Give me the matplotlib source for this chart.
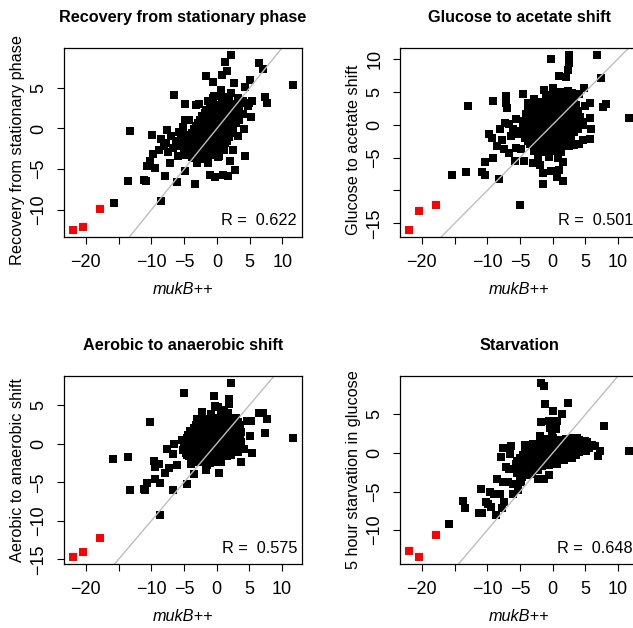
import matplotlib
matplotlib.use('Agg')
import matplotlib.pyplot as plt
import numpy as np

plt.rcParams['font.family'] = ['Liberation Sans', 'DejaVu Sans']
plt.rcParams['axes.unicode_minus'] = True

# panel texts
titles = ['Recovery from stationary phase', 'Glucose to acetate shift',
          'Aerobic to anaerobic shift', 'Starvation']
ylabels = ['Recovery from stationary phase', 'Glucose to acetate shift',
           'Aerobic to anaerobic shift', '5 hour starvation in glucose']
r_values = ['0.622', '0.501', '0.575', '0.648']

xticks = [-20, -15, -10, -5, 0, 5, 10]
xticks_hidden = [-15]
yticks = [[-10, -5, 0, 5], [-15, -10, -5, 0, 5, 10],
          [-15, -10, -5, 0, 5], [-10, -5, 0, 5]]
yticks_hidden = [[], [-10], [], []]

# red genes (same mukB++ values in every panel)
red_x = [-22.0, -20.5, -17.8]
red_y_recovery = [-12.5, -12.1, -9.9]
red_y_glucose = [-16.0, -13.1, -12.2]
red_y_aerobic = [-14.7, -14.1, -12.2]
red_y_starve = [-12.7, -13.5, -10.6]

# black points (mukB++, condition)
pts_recovery = [
    (2.15, 9.05), (1.23, 8.2), (6.36, 8.1), (6.97, 7.3), (11.64, 5.35), (-1.74, 6.46),
    (0.77, 6.58), (1.49, 7.08), (-0.6, 5.7), (2.56, 5.64), (5.08, 5.93), (4.26, 5.1),
    (-6.56, 4.1), (7.28, 3.9), (7.7, 3.09), (-4.8, 2.96), (-3.18, 2.88), (-2.7, 2.96),
    (-4.87, 1.1), (-4.3, 1.1), (5.23, 1.4), (5.3, 3.4), (4.9, 3.1), (4.2, -0.1),
    (4.26, -3.37), (-13.3, -0.29), (-9.85, -0.74), (-7.6, -0.16), (-5.85, -0.45),
    (-8.56, -1.28), (-7.74, -1.81), (-6.2, -1.5), (-10.67, -4.65), (-9.38, -4.81),
    (-10.15, -4.0), (-9.8, -3.2), (-8.9, -2.67), (-7.23, -4.2), (-7.95, -5.84),
    (-6.15, -6.6), (-4.8, -5.2), (-3.38, -6.8), (-13.5, -6.5), (-11.2, -6.3),
    (-10.8, -6.5), (-15.7, -9.2), (-8.6, -8.93), (-1.13, -5.68), (-0.36, -6.0),
    (0.92, -5.68), (1.74, -5.8), (2.8, -5.14), (2.05, -4.0), (-8.1, -2.18),
    (-7.5, -2.88), (-6.77, -2.39), (-6.15, -2.1), (-5.44, -1.36), (-4.77, -2.92),
    (-4.1, -2.26), (-6.97, -0.95), (-5.23, 0.2), (-4.5, -0.74), (-2.97, -4.24),
    (-1.44, -4.24), (0.36, -3.4), (1.13, -2.6), (2.4, -2.6), (-1.95, -3.8),
    (-3.5, -3.6), (-6.0, -3.4), (-1.44, 3.37), (-0.4, 4.0), (0.6, 4.8), (2.15, 4.4),
    (3.18, 3.8), (3.95, 3.37), (4.7, 2.76), (3.2, 2.35), (3.95, 1.73), (2.9, 0.7),
    (3.4, 1.1), (2.15, -0.53), (3.18, -0.95), (1.1, -1.36),
    # dense middle
    (-1.0, 3.1), (0.0, 2.9), (1.0, 3.2), (2.0, 3.0), (2.9, 2.8), (3.7, 3.1),
    (-1.6, 2.3), (-0.6, 2.1), (0.4, 2.4), (1.4, 2.2), (2.4, 2.0), (3.3, 2.3),
    (-2.3, 1.5), (-1.3, 1.3), (-0.3, 1.6), (0.7, 1.4), (1.7, 1.3), (2.7, 1.6),
    (-2.9, 0.7), (-1.9, 0.5), (-0.9, 0.8), (0.1, 0.6), (1.1, 0.5), (2.1, 0.8),
    (-3.5, -0.1), (-2.5, -0.3), (-1.5, 0.0), (-0.5, -0.2), (0.5, -0.1), (1.5, -0.3), (2.4, 0.0),
    (-4.1, -0.9), (-3.1, -1.1), (-2.1, -0.8), (-1.1, -1.0), (-0.1, -1.2), (0.9, -0.9), (1.8, -1.1),
    (-4.5, -1.7), (-3.5, -1.9), (-2.6, -1.6), (-1.6, -1.9), (-0.6, -1.7), (0.4, -2.0), (1.3, -1.8),
    (-5.0, -2.5), (-4.0, -2.7), (-3.0, -2.5), (-2.0, -2.8), (-1.0, -2.5), (0.0, -2.7), (0.8, -2.4),
    (-4.7, -3.3), (-3.8, -3.5), (-2.8, -3.3), (-1.8, -3.6), (-0.8, -3.3), (0.2, -3.5),
    (-0.6, 3.8), (0.8, 3.7), (1.9, 3.9),
    (-1.1, 2.7), (-0.1, 2.6), (0.9, 2.8), (1.9, 2.6), (2.9, 2.5),
    (-1.8, 1.9), (-0.8, 1.8), (0.2, 2.0), (1.2, 1.8), (2.2, 1.7), (3.1, 1.9),
    (-2.6, 1.1), (-1.6, 0.9), (-0.6, 1.2), (0.4, 1.0), (1.4, 0.9), (2.4, 1.2),
    (-3.2, 0.3), (-2.2, 0.1), (-1.2, 0.4), (-0.2, 0.2), (0.8, 0.1), (1.8, 0.3),
    (-3.8, -0.5), (-2.8, -0.7), (-1.8, -0.4), (-0.8, -0.6), (0.2, -0.5), (1.2, -0.7), (2.1, -0.5),
    (-4.3, -1.3), (-3.3, -1.5), (-2.3, -1.2), (-1.3, -1.4), (-0.3, -1.5), (0.7, -1.3), (1.6, -1.5),
    (-4.8, -2.1), (-3.8, -2.3), (-2.8, -2.0), (-1.8, -2.3), (-0.8, -2.1), (0.2, -2.3), (1.0, -2.0),
    (-4.4, -2.9), (-3.4, -3.1), (-2.4, -2.9), (-1.4, -3.2), (-0.4, -2.9),
]

pts_glucose = [
    (-0.26, 9.9), (2.56, 10.5), (6.77, 10.56), (2.56, 9.4), (2.4, 8.3), (0.92, 7.37),
    (2.05, 7.22), (7.38, 7.0), (-12.9, 2.83), (-9.13, 3.6), (-7.13, 4.34), (-7.2, 3.33),
    (-7.03, 2.58), (-4.5, 4.6), (-3.8, 3.33), (-2.9, 3.94), (-1.38, 5.25), (0.0, 5.5),
    (4.77, 5.6), (4.1, 4.6), (5.64, 3.33), (4.87, 2.83), (8.2, 3.18), (7.7, 2.68),
    (5.64, 0.96), (5.8, -0.7), (4.6, 0.4), (5.64, -2.22), (4.6, -2.3), (4.1, -3.0),
    (2.56, -3.2), (3.2, -3.1), (1.54, -5.66), (1.64, -8.5), (0.67, -8.0), (-0.26, -7.1),
    (1.0, -6.9), (-1.44, -7.4), (-1.54, -9.04), (-1.95, -6.16), (-3.08, -5.76),
    (-4.36, -5.5), (-5.64, -3.48), (-5.74, -5.5), (-4.87, -3.74), (-5.0, -12.2),
    (-8.2, -8.2), (-10.36, -5.66), (-9.13, -5.0), (-10.36, -7.6), (-10.77, -7.2),
    (-13.2, -7.2), (-15.4, -7.6), (-9.74, -1.36), (-9.33, -2.07), (-8.46, -3.23),
    (-8.1, -0.7), (-7.7, -2.32), (-7.3, 0.3), (-6.67, 0.05), (-6.05, -0.7),
    (-6.36, -1.7), (-5.23, -1.36), (-5.64, 0.8), (-4.5, 0.6), (-4.1, 1.57), (-3.7, 2.3),
    (-6.67, -4.24), (-7.44, -3.74), (11.7, 1.06),
    # dense middle
    (0.3, 5.0), (1.3, 4.9), (2.3, 5.1), (3.0, 4.8),
    (-1.0, 4.0), (0.0, 4.1), (1.0, 3.9), (2.0, 4.0), (3.2, 4.1),
    (-2.5, 3.0), (-1.5, 2.9), (-0.5, 3.1), (0.5, 3.0), (1.5, 2.9), (2.5, 3.1), (3.6, 3.0),
    (-3.2, 2.0), (-2.2, 2.1), (-1.2, 1.9), (-0.2, 2.0), (0.8, 2.1), (1.8, 1.9), (2.8, 2.0), (3.8, 2.1),
    (-4.0, 1.0), (-3.0, 0.9), (-2.0, 1.1), (-1.0, 1.0), (0.0, 0.9), (1.0, 1.1), (2.0, 1.0), (3.0, 0.9), (4.2, 1.1),
    (-4.6, 0.0), (-3.6, 0.1), (-2.6, -0.1), (-1.6, 0.0), (-0.6, 0.1), (0.4, -0.1), (1.4, 0.0), (2.4, 0.1), (3.4, -0.1), (4.6, 0.0),
    (-4.8, -1.0), (-3.8, -0.9), (-2.8, -1.1), (-1.8, -1.0), (-0.8, -0.9), (0.2, -1.1), (1.2, -1.0), (2.2, -0.9), (3.2, -1.1),
    (-4.2, -2.0), (-3.2, -2.1), (-2.2, -1.9), (-1.2, -2.0), (-0.2, -2.1), (0.8, -1.9), (1.8, -2.0), (2.8, -2.1),
    (-3.4, -3.0), (-2.4, -2.9), (-1.4, -3.1), (-0.4, -3.0), (0.6, -2.9), (1.6, -3.1), (2.6, -3.0),
    (-2.8, -4.0), (-1.8, -4.1), (-0.8, -3.9), (0.2, -4.0), (1.2, -4.1),
    (-2.2, -5.0), (-0.6, -4.9), (0.8, -5.1),
    (-0.5, 4.5), (0.6, 4.6), (1.7, 4.4), (2.7, 4.5),
    (-2.0, 3.5), (-1.0, 3.6), (0.0, 3.4), (1.0, 3.5), (2.0, 3.6), (3.0, 3.4),
    (-2.8, 2.5), (-1.7, 2.6), (-0.7, 2.4), (0.3, 2.5), (1.3, 2.6), (2.3, 2.4), (3.3, 2.5),
    (-3.6, 1.5), (-2.6, 1.6), (-1.6, 1.4), (-0.6, 1.5), (0.4, 1.6), (1.4, 1.4), (2.4, 1.5), (3.5, 1.6),
    (-4.2, 0.5), (-3.1, 0.6), (-2.1, 0.4), (-1.1, 0.5), (-0.1, 0.6), (0.9, 0.4), (1.9, 0.5), (2.9, 0.6), (3.9, 0.4),
    (-4.3, -0.5), (-3.3, -0.4), (-2.3, -0.6), (-1.3, -0.5), (-0.3, -0.4), (0.7, -0.6), (1.7, -0.5), (2.7, -0.4), (3.8, -0.6),
    (-4.5, -1.5), (-3.5, -1.4), (-2.5, -1.6), (-1.5, -1.5), (-0.5, -1.4), (0.5, -1.6), (1.5, -1.5), (2.5, -1.4),
    (-3.7, -2.5), (-2.7, -2.4), (-1.7, -2.6), (-0.7, -2.5), (0.3, -2.4), (1.3, -2.6), (2.3, -2.5),
    (-2.9, -3.5), (-1.9, -3.4), (-0.9, -3.6), (0.1, -3.5), (1.1, -3.4),
]

pts_aerobic = [
    (2.2, 7.9), (-5.0, 6.6), (-0.36, 6.25), (1.95, 5.8), (1.95, 5.17), (-0.26, 4.96),
    (0.15, 4.74), (1.18, 4.44), (-2.16, 4.18), (6.48, 4.0), (7.1, 3.97), (7.76, 3.23),
    (7.35, 1.42), (11.72, 0.73), (-10.23, 2.8), (4.58, 3.0), (5.2, 2.93), (5.14, 1.0),
    (4.27, -0.65), (5.45, -1.16), (3.8, -2.37), (-15.8, -2.03), (-13.5, -1.68),
    (-13.3, -5.95), (-11.16, -5.82), (-10.9, -6.03), (-10.6, -5.04), (-9.46, -4.53),
    (-8.6, -5.04), (-6.63, -6.0), (-4.47, -5.17), (-8.6, -9.18), (-9.6, -2.2),
    (-9.5, -2.97), (-8.74, -2.59), (-7.66, -0.65), (-7.92, -3.75), (-7.3, -3.15),
    (-6.53, 0.0), (-6.68, -1.3), (-6.0, -2.72), (-5.35, 0.43), (-5.0, -0.65),
    (-4.47, -1.5), (-3.96, -2.6), (-3.44, -3.9), (-1.65, -3.45), (0.3, -3.75),
    (3.75, 0.2), (3.24, -1.08), (2.2, -1.5), (0.67, -2.37), (-1.4, -2.8),
    (-3.03, 3.23), (-1.9, 2.37), (-3.2, 1.16),
    # dense middle
    (-0.8, 3.9), (0.6, 3.8), (1.8, 4.0),
    (-2.0, 3.2), (-1.0, 3.1), (0.0, 3.3), (1.0, 3.2), (2.0, 3.1), (3.0, 3.3),
    (-3.2, 2.4), (-2.2, 2.5), (-1.2, 2.3), (-0.2, 2.4), (0.8, 2.5), (1.8, 2.3), (2.8, 2.4), (3.6, 2.5),
    (-4.0, 1.6), (-3.0, 1.7), (-2.0, 1.5), (-1.0, 1.6), (0.0, 1.7), (1.0, 1.5), (2.0, 1.6), (3.0, 1.7), (3.8, 1.5),
    (-4.6, 0.8), (-3.6, 0.7), (-2.6, 0.9), (-1.6, 0.8), (-0.6, 0.7), (0.4, 0.9), (1.4, 0.8), (2.4, 0.7), (3.4, 0.9),
    (-5.0, 0.0), (-4.0, 0.1), (-3.0, -0.1), (-2.0, 0.0), (-1.0, 0.1), (0.0, -0.1), (1.0, 0.0), (2.0, 0.1), (3.0, -0.1),
    (-5.2, -0.8), (-4.2, -0.9), (-3.2, -0.7), (-2.2, -0.8), (-1.2, -0.9), (-0.2, -0.7), (0.8, -0.8), (1.8, -0.9), (2.8, -0.7),
    (-4.2, -1.6), (-3.2, -1.7), (-2.2, -1.5), (-1.2, -1.6), (-0.2, -1.7), (0.8, -1.5), (1.6, -1.6),
    (-3.0, -2.4), (-2.0, -2.3), (-1.0, -2.5), (0.0, -2.4),
    (-2.6, 2.8), (-1.6, 2.9), (-0.6, 2.7), (0.4, 2.8), (1.4, 2.9), (2.4, 2.7), (3.2, 2.8),
    (-3.5, 2.0), (-2.5, 2.1), (-1.5, 1.9), (-0.5, 2.0), (0.5, 2.1), (1.5, 1.9), (2.5, 2.0), (3.4, 2.1),
    (-4.3, 1.2), (-3.3, 1.3), (-2.3, 1.1), (-1.3, 1.2), (-0.3, 1.3), (0.7, 1.1), (1.7, 1.2), (2.7, 1.3), (3.6, 1.1),
    (-4.8, 0.4), (-3.8, 0.5), (-2.8, 0.3), (-1.8, 0.4), (-0.8, 0.5), (0.2, 0.3), (1.2, 0.4), (2.2, 0.5), (3.2, 0.3),
    (-4.6, -0.4), (-3.6, -0.3), (-2.6, -0.5), (-1.6, -0.4), (-0.6, -0.3), (0.4, -0.5), (1.4, -0.4), (2.4, -0.3),
    (-4.7, -1.2), (-3.7, -1.1), (-2.7, -1.3), (-1.7, -1.2), (-0.7, -1.1), (0.3, -1.3), (1.2, -1.2), (2.2, -1.1),
    (-3.6, -2.0), (-2.6, -1.9), (-1.6, -2.1), (-0.6, -2.0), (0.4, -1.9),
]

pts_starve = [
    (-1.8, 9.09), (-1.4, 8.66), (-1.14, 6.39), (2.27, 6.5), (0.05, 5.44), (1.5, 5.1),
    (7.8, 3.5), (-1.76, 4.03), (-0.62, 4.16), (0.67, 4.16), (-0.36, 3.3), (0.52, 3.09),
    (-0.1, 2.36), (-1.9, 2.2), (3.77, 2.0), (5.3, 1.46), (6.5, 0.94), (7.2, 0.3),
    (7.0, -0.34), (5.06, 0.3), (4.3, 0.9), (3.8, 0.1), (-7.65, 0.6), (-6.3, 0.86),
    (-7.96, -0.56), (-6.56, -0.13), (-4.24, 1.07), (-2.95, 1.16), (-4.2, 0.2),
    (-7.08, -1.84), (-6.67, -2.06), (-8.53, -3.34), (-7.6, -3.77), (-6.8, -3.7),
    (-6.05, -3.99), (-4.9, -3.8), (-10.96, -4.63), (-9.56, -5.06), (-8.9, -5.27),
    (-8.11, -5.27), (-7.44, -6.34), (-10.18, -6.34), (-9.82, -6.56), (-9.4, -6.99),
    (-7.75, -7.2), (-11.2, -7.84), (-10.85, -7.76), (-8.63, -8.06), (-13.64, -6.2),
    (-13.44, -7.2), (-15.87, -9.26), (-4.75, -3.13), (-6.05, -5.27), (-5.27, -4.84),
    (-3.46, -2.49), (-2.17, -3.34), (-1.4, -3.43), (-0.62, -2.91), (-4.75, -1.63),
    (-5.53, -0.99), (11.7, 0.3),
    # dense band
    (-1.0, 1.8), (0.0, 1.9), (1.0, 1.7), (2.0, 1.8), (3.0, 1.9), (4.0, 1.7),
    (-3.0, 1.0), (-2.0, 1.1), (-1.0, 0.9), (0.0, 1.0), (1.0, 1.1), (2.0, 0.9), (3.0, 1.0), (4.0, 1.1), (5.0, 0.9), (6.0, 1.0),
    (-4.0, 0.2), (-3.0, 0.3), (-2.0, 0.1), (-1.0, 0.2), (0.0, 0.3), (1.0, 0.1), (2.0, 0.2), (3.0, 0.3), (4.0, 0.1), (5.0, 0.2),
    (-5.0, -0.6), (-4.0, -0.5), (-3.0, -0.7), (-2.0, -0.6), (-1.0, -0.5), (0.0, -0.7), (1.0, -0.6), (2.0, -0.5), (3.0, -0.7),
    (-5.6, -1.4), (-4.6, -1.3), (-3.6, -1.5), (-2.6, -1.4), (-1.6, -1.3), (-0.6, -1.5), (0.6, -1.4),
    (-5.2, -2.2), (-4.2, -2.1), (-3.2, -2.3), (-2.2, -2.2),
    (-5.0, -3.0), (-4.0, -2.9),
    (-2.0, 1.4), (-1.0, 1.5), (0.0, 1.3), (1.0, 1.4), (2.0, 1.5), (3.0, 1.3), (4.0, 1.4), (5.0, 1.5),
    (-3.5, 0.6), (-2.5, 0.7), (-1.5, 0.5), (-0.5, 0.6), (0.5, 0.7), (1.5, 0.5), (2.5, 0.6), (3.5, 0.7), (4.5, 0.5), (5.5, 0.6),
    (-4.5, -0.2), (-3.5, -0.1), (-2.5, -0.3), (-1.5, -0.2), (-0.5, -0.1), (0.5, -0.3), (1.5, -0.2), (2.5, -0.1), (3.5, -0.3),
    (-5.3, -1.0), (-4.3, -0.9), (-3.3, -1.1), (-2.3, -1.0), (-1.3, -0.9), (-0.3, -1.1), (0.7, -1.0), (1.7, -0.9),
    (-5.6, -1.8), (-4.6, -1.7), (-3.6, -1.9), (-2.6, -1.8), (-1.6, -1.7),
    (-5.5, -2.6), (-4.5, -2.5), (-3.5, -2.7),
]

black_pts = [pts_recovery, pts_glucose, pts_aerobic, pts_starve]
red_ys = [red_y_recovery, red_y_glucose, red_y_aerobic, red_y_starve]

fig = plt.figure(figsize=(6.33, 6.28), dpi=100)
W, H = 633.0, 628.0
# axes boxes in pixels: left, top, width, height
boxes = [(64, 48, 238, 189), (400, 48, 238, 189),
         (64, 376, 238, 188), (400, 376, 238, 188)]
ylabel_pos = [0.46, 0.46, 0.5, 0.5]


def fmt(v):
    return str(v).replace('-', '\u2212')


for i in range(4):
    l, t, w, h = boxes[i]
    ax = fig.add_axes([l / W, 1 - (t + h) / H, w / W, h / H])
    pts = np.array(black_pts[i])
    ax.plot(pts[:, 0], pts[:, 1], 's', ms=5.4, color='black', mew=0)
    ax.plot(red_x, red_ys[i], 's', ms=5.4, color='red', mew=0)
    ax.margins(0.04)
    ax.axline((0, 0), slope=1, color='#bebebe', lw=1)

    ax.set_xticks(xticks)
    ax.set_xticklabels(['' if v in xticks_hidden else fmt(v) for v in xticks])
    ax.set_yticks(yticks[i])
    ax.set_yticklabels(['' if v in yticks_hidden[i] else fmt(v) for v in yticks[i]],
                       rotation=90, va='center')
    ax.tick_params(direction='out', length=5, width=0.8, labelsize=13, pad=7)
    for s in ax.spines.values():
        s.set_linewidth(0.9)

    ax.text(0.5, 1.163, titles[i], transform=ax.transAxes, ha='center', va='center',
            fontsize=11.7, fontweight='bold')
    ax.text(-0.197, ylabel_pos[i], ylabels[i], transform=ax.transAxes, ha='center',
            va='center', rotation=90, fontsize=11.7)
    ax.text(0.5, -0.28, 'mukB++', transform=ax.transAxes, ha='center', va='center',
            fontsize=11.7, style='italic')
    ax.text(0.979, 0.085, 'R =  ' + r_values[i], transform=ax.transAxes, ha='right',
            va='center', fontsize=11.7)

fig.savefig('out.png', dpi=100)
